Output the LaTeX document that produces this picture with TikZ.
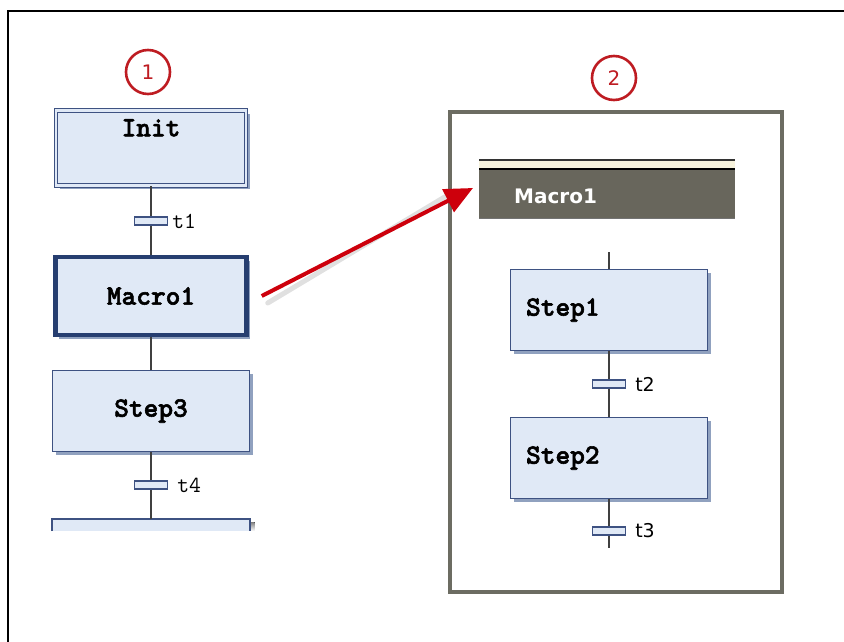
\documentclass[tikz,border=0pt]{standalone}
\usepackage{fontspec}
\newfontfamily\stepfont{Latin Modern Mono Light}[FakeBold=2]
\newfontfamily\transfont{Latin Modern Mono}
\newfontfamily\labelfont{DejaVu Sans}
\usetikzlibrary{arrows.meta,shadows}
\definecolor{stepfill}{RGB}{224,233,246}
\definecolor{stepline}{RGB}{62,82,130}
\definecolor{macroline}{RGB}{38,62,112}
\definecolor{shade}{RGB}{125,145,180}
\definecolor{framegray}{RGB}{108,108,98}
\definecolor{headgray}{RGB}{104,102,92}
\definecolor{cream}{RGB}{246,242,220}
\definecolor{arrowred}{RGB}{205,0,12}
\definecolor{markred}{RGB}{190,28,34}
\tikzset{
  stepbox/.style={draw=stepline, fill=stepfill, line width=1.2pt, minimum width=196pt, minimum height=81pt,
    inner sep=0pt, drop shadow={shadow xshift=3.5pt, shadow yshift=-3.5pt, fill=shade, opacity=.85},
    font=\stepfont\bfseries\fontsize{28}{28}\selectfont},
  steptext/.style={inner sep=0pt, anchor=west, font=\stepfont\bfseries\fontsize{28}{28}\selectfont},
  trans/.style={draw=stepline, fill=stepfill, line width=1.1pt, minimum width=33pt, minimum height=8pt, inner sep=0pt},
  translabel/.style={anchor=west, inner sep=0pt},
  numbermark/.style={circle, draw=markred, line width=2.6pt, minimum size=44pt, inner sep=0pt,
    text=markred, font=\labelfont\fontsize{20}{20}\selectfont},
  link/.style={line width=1.3pt, draw=black!75},
}
\begin{document}
\begin{tikzpicture}[x=1pt,y=-1pt]
  \useasboundingbox (0,0) rectangle (844,642);
  \fill[white] (0,0) rectangle (844,642);
  \draw[line width=2pt, black] (8,642) -- (8,11) -- (844,11);

  % main chart
  \node[numbermark] (one) at (148,72) {1};
  \node[stepbox, double=stepfill, double distance=2.5pt, line width=1pt, minimum width=190pt, minimum height=75pt] (init) at (151,148) {};
  \node[steptext, anchor=north] (initlabel) at (151,119) {Init};
  \node[trans] (t1) at (151,221) {};
  \node[translabel, font=\transfont\fontsize{23}{23}\selectfont] (t1label) at ([xshift=4pt]t1.east) {t1};
  \node[stepbox, draw=macroline, line width=4.5pt, minimum width=191pt, minimum height=78pt] (macro) at (151,296) {Macro1};
  \node[stepbox, minimum width=197pt] (step3) at (151,411) {Step3};
  \node[trans] (t4) at (151,485) {};
  \node[translabel, font=\transfont\fontsize{23}{23}\selectfont] (t4label) at ([xshift=9pt]t4.east) {t4};
  \coordinate (stub) at (151,519);
  \fill[stepfill] (52,519) rectangle (250,531);
  \fill[shade] (250.6,522) rectangle (254.5,531);
  \draw[stepline, line width=1.2pt] (52,531) -- (52,519) -- (250,519) -- (250,531);
  \draw[link] (init) -- (t1) -- (macro);
  \draw[link] (macro) -- (step3);
  \draw[link] (step3) -- (t4) -- (stub);

  % macro contents
  \node[numbermark] (two) at (614,78) {2};
  \draw[framegray, line width=3.5pt] (450,112) rectangle (782,592);
  \fill[headgray] (479,170) rectangle (735,218);
  \draw[black!80, line width=1.6pt] (479,160) -- (735,160);
  \fill[cream] (479,161) rectangle (735,168);
  \draw[black, line width=2.2pt] (479,169) -- (735,169);
  \draw[black!55, line width=1pt] (479,218) -- (735,218);
  \node[anchor=west, inner sep=0pt, text=white, font=\labelfont\bfseries\fontsize{20}{20}\selectfont] (header) at (514,196) {Macro1};
  \coordinate (entry) at (609,252);
  \node[stepbox, minimum width=197pt] (step1) at (609,310) {};
  \node[steptext] (step1label) at ([xshift=16pt]step1.west) {Step1};
  \node[trans] (t2) at (609,384) {};
  \node[translabel, font=\labelfont\fontsize{19}{19}\selectfont] (t2label) at ([xshift=9pt]t2.east) {t2};
  \node[stepbox, minimum width=197pt] (step2) at (609,458) {};
  \node[steptext] (step2label) at ([xshift=16pt]step2.west) {Step2};
  \node[trans] (t3) at (609,531) {};
  \node[translabel, font=\labelfont\fontsize{19}{19}\selectfont] (t3label) at ([xshift=9pt]t3.east) {t3};
  \coordinate (exit) at (609,548);
  \draw[link] (entry) -- (step1);
  \draw[link] (step1) -- (t2) -- (step2);
  \draw[link] (step2) -- (t3) -- (exit);

  % zoom arrow
  \coordinate (arrowstart) at ([xshift=13pt]macro.east);
  \coordinate (arrowtip) at (473,188);
  \draw[black, opacity=.12, line width=5pt, line cap=round] ([xshift=6pt,yshift=-7pt]arrowstart) -- ([xshift=-20pt,yshift=-4pt]arrowtip);
  \draw[arrowred, line width=4pt, -{Triangle[length=28pt,width=25pt]}] (arrowstart) -- (arrowtip);
\end{tikzpicture}
\end{document}
